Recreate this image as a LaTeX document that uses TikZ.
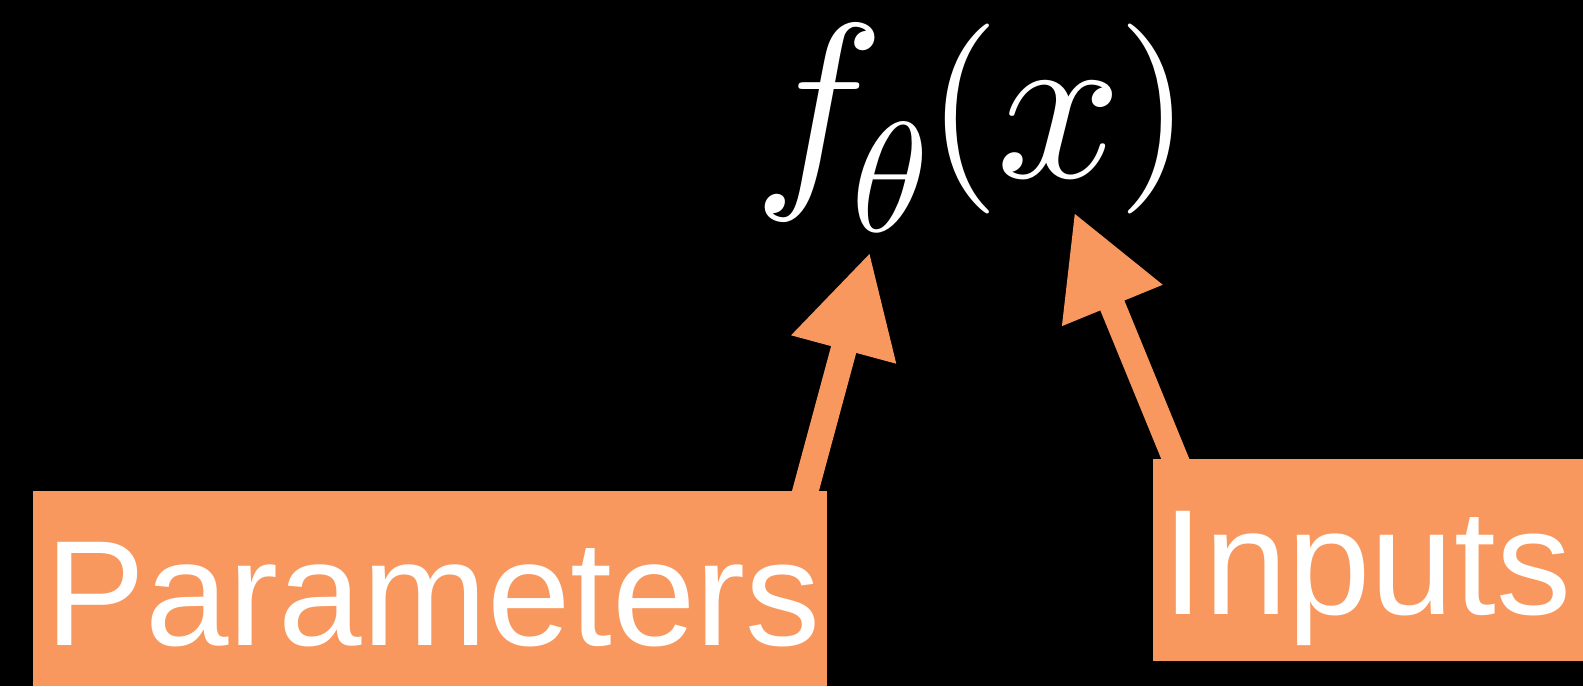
\documentclass[tikz,border=0pt]{standalone}
\usepackage{graphicx}
\usepackage{fontspec}
\setmainfont{Liberation Sans}
\usetikzlibrary{arrows.meta}
\definecolor{boxorange}{RGB}{249,152,94}
\begin{document}
\begin{tikzpicture}[x=0.5pt,y=-0.5pt,
  labelbox/.style={fill=boxorange,draw=none},
  labeltext/.style={text=white,inner sep=0pt,anchor=base west,font=\fontsize{75}{75}\selectfont},
  bigarrow/.style={draw=boxorange,line width=13pt,-{Triangle[length=50.5pt,width=50.5pt]}}]
\fill[black] (0,0) rectangle (1583,686);
\useasboundingbox (0,0) rectangle (1583,686);
% formula
\node[text=white,inner sep=0pt,anchor=base west] (formula) at (753,177)
  {\scalebox{11}{$f$}\kern-16.5pt\raisebox{-27pt}{\scalebox{7.8}{$\theta$}}\kern-1.5pt\raisebox{5.5pt}{\scalebox{9.5}{$($}}\kern-2pt\scalebox{11}{$x$}\kern-2pt\raisebox{5.5pt}{\scalebox{9.5}{$)$}}};
\coordinate (thetatip) at (870,252);
\coordinate (xtip) at (1074,212);
\coordinate (pstart) at (803,500);
\coordinate (istart) at (1179,468);
% arrows
\draw[bigarrow] (pstart) -- (thetatip);
\draw[bigarrow] (istart) -- (xtip);
% boxes
\path[labelbox] (33,491) rectangle (827,686);
\path[labelbox] (1153,459) rectangle (1583,661);
\node[labeltext] (params) at (45,645) {Parameters};
\node[labeltext] (inputs) at (1162,614) {Inputs};
\end{tikzpicture}
\end{document}
